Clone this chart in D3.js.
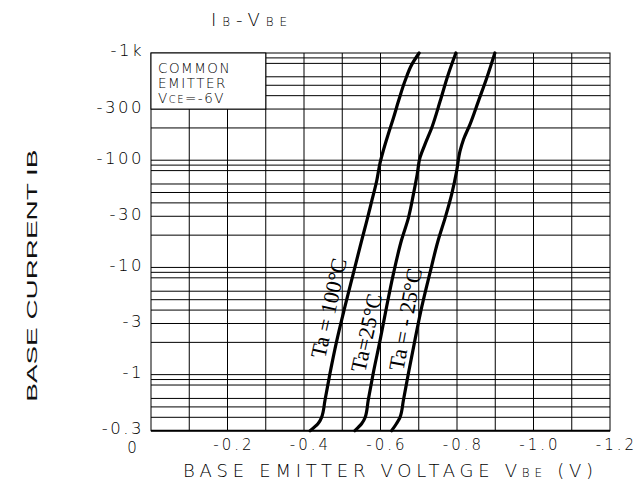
<!DOCTYPE html>
<html>
<head>
<meta charset="utf-8">
<script src="https://cdn.jsdelivr.net/npm/d3@7"></script>
<style>
  html, body { margin: 0; padding: 0; background: #fff; }
  svg { display: block; }
  .stroke { font-family: "DejaVu Sans", sans-serif; font-weight: 200; fill: #000; }
  .serif { font-family: "Liberation Serif", "Times New Roman", serif; fill: #000; }
</style>
</head>
<body>
<svg id="chart" width="640" height="484"></svg>
<script>
// ---- data ----
const vbe100 = [-0.416,-0.437,-0.446,-0.455,-0.468,-0.486,-0.507,-0.529,-0.551,-0.564,-0.577,-0.590,-0.599,-0.607,-0.620,-0.634,-0.647,-0.664,-0.682,-0.701];
const ib100  = [-0.3,-0.35,-0.4,-0.58,-1.03,-2.1,-4.3,-8.8,-18,-27,-41.5,-64,-95,-122,-174,-249,-356,-548,-783,-1000];

const vbe25 = [-0.533,-0.551,-0.560,-0.568,-0.581,-0.599,-0.616,-0.634,-0.655,-0.673,-0.686,-0.696,-0.703,-0.716,-0.734,-0.756,-0.777,-0.797];
const ib25  = [-0.3,-0.35,-0.4,-0.58,-1.03,-2.1,-4.3,-8.8,-18,-29,-48,-74,-105,-140,-201,-356,-631,-1000];

const vbeM25 = [-0.629,-0.642,-0.651,-0.660,-0.673,-0.690,-0.708,-0.729,-0.751,-0.769,-0.786,-0.799,-0.808,-0.817,-0.834,-0.856,-0.878,-0.899];
const ibM25  = [-0.3,-0.35,-0.4,-0.58,-1.03,-2.1,-4.3,-8.8,-18,-29,-48,-79,-122,-156,-216,-356,-588,-1000];

const seriesNames = ["Ta = 100°C", "Ta=25°C", "Ta = - 25°C"];
const labelAnchorV = [-0.455, -0.5595, -0.6596];
const labelAnchorI = [-1.39, -1.03, -1.07];

const xTickValues = [-0.2, -0.4, -0.6, -0.8, -1.0, -1.2];
const xTickLabels = ["-0.2", "-0.4", "-0.6", "-0.8", "-1.0", "-1.2"];
const yTickValues = [-1000, -300, -100, -30, -10, -3, -1, -0.3];
const yTickLabels = ["-1k", "-300", "-100", "-30", "-10", "-3", "-1", "-0.3"];
const xGridValues = [-0.1,-0.2,-0.3,-0.4,-0.5,-0.6,-0.7,-0.8,-0.9,-1.0,-1.1];
const yGridValues = [-900,-800,-600,-500,-400,-300,-200,-100,-90,-80,-60,-50,-40,-30,-20,-10,-9,-8,-6,-5,-4,-3,-2,-1,-0.9,-0.8,-0.6,-0.5,-0.4];
const legendLines = ["COMMON", "EMITTER"];

// ---- layout ----
const svg = d3.select("#chart");
const L = 151, R = 610, T = 53, B = 430.7;
const x = d3.scaleLinear().domain([0, -1.2]).range([L, R]);
const y = d3.scaleLog().domain([-0.3, -1000]).range([B, T]);

// grid
const g = svg.append("g");
g.selectAll("line.vg").data(xGridValues).join("line")
  .attr("x1", d => x(d)).attr("x2", d => x(d)).attr("y1", T).attr("y2", B)
  .attr("stroke", "#000").attr("stroke-width", 1);
g.selectAll("line.hg").data(yGridValues).join("line")
  .attr("x1", L).attr("x2", R).attr("y1", d => y(d)).attr("y2", d => y(d))
  .attr("stroke", "#000").attr("stroke-width", 1);

// frame
svg.append("rect").attr("x", L).attr("y", T).attr("width", R - L).attr("height", B - T)
  .attr("fill", "none").attr("stroke", "#000").attr("stroke-width", 1);
svg.append("line").attr("x1", L).attr("x2", R).attr("y1", B).attr("y2", B)
  .attr("stroke", "#000").attr("stroke-width", 2);

// legend box
svg.append("rect").attr("x", L).attr("y", T)
  .attr("width", x(-0.3) - L).attr("height", y(-300) - T)
  .attr("fill", "#fff").attr("stroke", "#000").attr("stroke-width", 1);
const lg = svg.append("text").attr("class", "stroke").attr("font-size", 13.5).attr("letter-spacing", 1.5);
lg.append("tspan").attr("x", L + 7).attr("y", 72.7).text(legendLines[0]);
lg.append("tspan").attr("x", L + 7).attr("y", 87.5).text(legendLines[1]);
const l3 = lg.append("tspan").attr("x", L + 7).attr("y", 103.3);
l3.text("V");
lg.append("tspan").attr("font-size", 10).text("CE");
lg.append("tspan").text("=-6V");

// curves
const line = d3.line().x(d => x(d[0])).y(d => y(d[1])).curve(d3.curveMonotoneY);
const curves = [d3.zip(vbe100, ib100), d3.zip(vbe25, ib25), d3.zip(vbeM25, ibM25)];
svg.selectAll("path.curve").data(curves).join("path")
  .attr("class", "curve").attr("d", line)
  .attr("fill", "none").attr("stroke", "#000").attr("stroke-width", 3.2)
  .attr("stroke-linejoin", "round").attr("stroke-linecap", "round");

// curve labels
svg.selectAll("text.clab").data(seriesNames).join("text")
  .attr("class", "serif clab")
  .attr("font-size", 22)
  .attr("transform", (d, i) => `translate(${x(labelAnchorV[i])},${y(labelAnchorI[i])}) rotate(${[-77.5, -77.5, -79.5][i]})`)
  .text(d => d);

// x axis ticks
const xa = svg.append("g").attr("transform", `translate(0,${B})`)
  .call(d3.axisBottom(x).tickValues(xTickValues).tickSize(0).tickPadding(8.5)
    .tickFormat((d, i) => xTickLabels[i]));
xa.select(".domain").remove();
xa.selectAll("text").attr("class", "stroke").attr("font-size", 15).attr("letter-spacing", 3)
  .attr("dx", 6).attr("fill", "#000");

// zero label
svg.append("text").attr("class", "stroke").attr("font-size", 15)
  .attr("x", x(0) - 19).attr("y", 452.7).attr("text-anchor", "middle").text("0");

// y axis ticks
const ya = svg.append("g").attr("transform", `translate(${L},0)`)
  .call(d3.axisLeft(y).tickValues(yTickValues).tickSize(0).tickPadding(7)
    .tickFormat((d, i) => yTickLabels[i]));
ya.select(".domain").remove();
ya.selectAll("text").attr("class", "stroke").attr("font-size", 16.5).attr("letter-spacing", 2.5)
  .attr("dy", "0.18em").attr("fill", "#000");

// title
const tt = svg.append("text").attr("class", "stroke").attr("x", 211).attr("y", 25.5)
  .attr("font-size", 18).attr("textLength", 76).attr("lengthAdjust", "spacing");
tt.append("tspan").text("I");
tt.append("tspan").attr("font-size", 12).text("B");
tt.append("tspan").text("-V");
tt.append("tspan").attr("font-size", 12).text("BE");

// x axis title
const xt = svg.append("text").attr("class", "stroke").attr("x", 183).attr("y", 476.7)
  .attr("font-size", 18).attr("textLength", 410).attr("lengthAdjust", "spacing");
xt.append("tspan").text("BASE EMITTER VOLTAGE V");
xt.append("tspan").attr("font-size", 12).text("BE");
xt.append("tspan").text(" (V)");

// y axis title
svg.append("text")
  .attr("font-family", "Liberation Sans, Arial, sans-serif").attr("font-size", 14.5)
  .attr("fill", "#111")
  .attr("transform", "translate(36.5,401.7) rotate(-90)")
  .attr("textLength", 252).attr("lengthAdjust", "spacingAndGlyphs")
  .text("BASE CURRENT IB");
</script>
</body>
</html>
